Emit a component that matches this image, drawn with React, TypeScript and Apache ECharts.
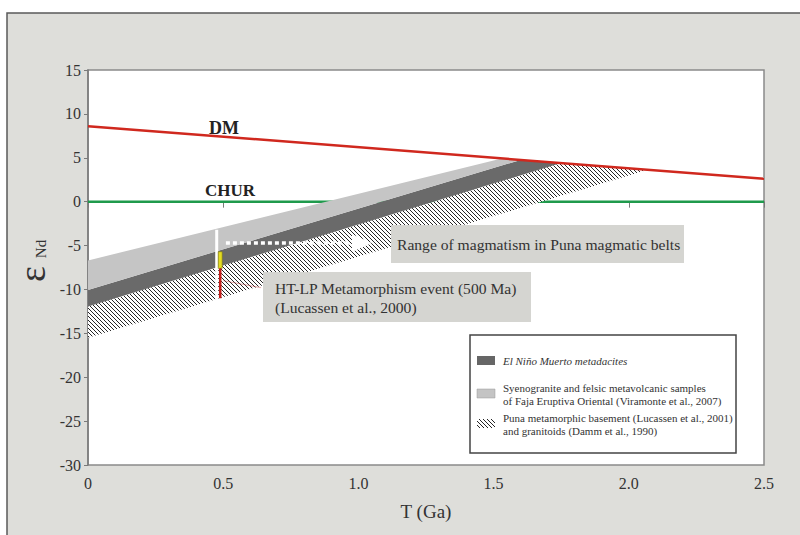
import React, { useEffect, useRef } from 'react';
import * as echarts from 'echarts';

// ---------- data ----------
const xTickLabels = ['0', '0.5', '1.0', '1.5', '2.0', '2.5'];
const dmLine = [[0, 8.6], [2.5, 2.6]];
const churLine = [[0, 0], [2.5, 0]];
const syenograniteBand = [[0, -6.7], [1.53, 4.93], [1.6, 4.76], [0, -10.05]];
const elNinoBand = [[0, -10.05], [1.6, 4.76], [1.75, 4.4], [0, -11.95]];
const punaBand = [[0, -11.95], [1.75, 4.4], [2.07, 3.63], [0, -15.5]];
const eventT = 0.476;
const eventWhiteSpan = [-3.2, -11.2];
const eventYellowSpan = [-5.7, -7.6];
const eventRedSpan = [-7.6, -11.0];
const arrowY = -4.7;
const arrowSpan = [0.51, 1.05];
const leaderLine = [[0.5, -9.0], [0.64, -9.8]];

const SERIF = 'Liberation Serif';

function makeHatch(): HTMLCanvasElement {
  const c = document.createElement('canvas');
  c.width = 4;
  c.height = 4;
  const ctx = c.getContext('2d')!;
  ctx.fillStyle = '#ffffff';
  ctx.fillRect(0, 0, 4, 4);
  ctx.strokeStyle = '#262626';
  ctx.lineWidth = 1;
  ctx.beginPath();
  ctx.moveTo(0, 0); ctx.lineTo(4, 4);
  ctx.moveTo(-1, 3); ctx.lineTo(1, 5);
  ctx.moveTo(3, -1); ctx.lineTo(5, 1);
  ctx.stroke();
  return c;
}

export default function App() {
  const ref = useRef<HTMLDivElement>(null);
  useEffect(() => {
    if (!ref.current) return;
    const chart = echarts.init(ref.current, null, { renderer: 'svg' });
    const hatch = { image: makeHatch(), repeat: 'repeat' };

    const poly = (name: string, pts: number[][], fill: any, z: number) => ({
      type: 'custom',
      name,
      z,
      silent: true,
      clip: true,
      data: [[0, 0]],
      renderItem: (_p: any, api: any) => ({
        type: 'polygon',
        shape: { points: pts.map((p) => api.coord(p)) },
        style: { fill, stroke: null },
      }),
    });

    const option: any = {
      animation: false,
      backgroundColor: '#ffffff',
      textStyle: { fontFamily: SERIF },
      grid: {
        left: 88, top: 70, width: 676, height: 395,
        show: true, backgroundColor: '#ffffff', borderColor: '#8a8a8a', borderWidth: 1.5,
      },
      xAxis: {
        type: 'value', min: 0, max: 2.5, interval: 0.5,
        name: 'T (Ga)', nameLocation: 'middle', nameGap: 37,
        nameTextStyle: { fontFamily: SERIF, fontSize: 19, color: '#333' },
        axisLine: { show: true, lineStyle: { color: '#7a7a7a', width: 1.5 } },
        axisTick: { show: true, length: 6, lineStyle: { color: '#7a7a7a' } },
        axisLabel: {
          margin: 10, fontFamily: SERIF, fontSize: 16, color: '#333',
          formatter: (v: number) => xTickLabels[Math.round(v / 0.5)] ?? '',
        },
        splitLine: { show: false },
      },
      yAxis: {
        type: 'value', min: -30, max: 15, interval: 5,
        axisLine: { show: true, lineStyle: { color: '#7a7a7a', width: 1.5 } },
        axisTick: { show: true, length: 4, lineStyle: { color: '#7a7a7a' } },
        axisLabel: { margin: 7, fontFamily: SERIF, fontSize: 16, color: '#333' },
        splitLine: { show: false },
      },
      series: [
        {
          type: 'line', name: 'CHUR', data: churLine, symbol: 'none', z: 1, silent: true,
          lineStyle: { color: '#1f9a4c', width: 2.5 },
        },
        poly('Puna', punaBand, hatch, 2),
        poly('El Niño', elNinoBand, '#6a6a6a', 3),
        poly('Syenogranite', syenograniteBand, '#c5c5c5', 4),
        {
          type: 'line', name: 'DM', data: dmLine, symbol: 'none', z: 5, silent: true,
          lineStyle: { color: '#d0281e', width: 2.5 },
        },
        {
          type: 'custom', name: 'annotations', z: 6, silent: true, clip: false,
          data: [[0, 0]],
          renderItem: (_p: any, api: any) => {
            const w0 = api.coord([eventT, eventWhiteSpan[0]]);
            const w1 = api.coord([eventT, eventWhiteSpan[1]]);
            const y0 = api.coord([eventT, eventYellowSpan[0]]);
            const y1 = api.coord([eventT, eventYellowSpan[1]]);
            const r0 = api.coord([eventT, eventRedSpan[0]]);
            const r1 = api.coord([eventT, eventRedSpan[1]]);
            const a0 = api.coord([arrowSpan[0], arrowY]);
            const a1 = api.coord([arrowSpan[1], arrowY]);
            const l0 = api.coord(leaderLine[0]);
            const l1 = api.coord(leaderLine[1]);
            return {
              type: 'group',
              children: [
                { type: 'line', shape: { x1: l0[0], y1: l0[1], x2: l1[0], y2: l1[1] }, style: { stroke: 'rgba(200,60,60,0.45)', lineWidth: 1 } },
                { type: 'line', shape: { x1: w0[0], y1: w0[1], x2: w1[0], y2: w1[1] }, style: { stroke: '#ffffff', lineWidth: 3 } },
                { type: 'rect', shape: { x: y0[0] + 1.5, y: y0[1], width: 4, height: y1[1] - y0[1] }, style: { fill: '#e4dc22', stroke: '#7a7410', lineWidth: 0.6 } },
                { type: 'line', shape: { x1: r0[0] + 3.5, y1: r0[1], x2: r1[0] + 3.5, y2: r1[1] }, style: { stroke: '#c41e1a', lineWidth: 2.5 } },
                { type: 'line', shape: { x1: a0[0], y1: a0[1], x2: a1[0] - 18, y2: a1[1] }, style: { stroke: '#ffffff', lineWidth: 3.5, lineDash: [4, 3] } },
                { type: 'polygon', shape: { points: [[a1[0], a1[1]], [a1[0] - 20, a1[1] - 9], [a1[0] - 20, a1[1] + 9]] }, style: { fill: '#ffffff' } },
              ],
            };
          },
        },
      ],
      graphic: [
        { type: 'rect', z: -10, shape: { x: 7, y: 13, width: 800, height: 540 }, style: { fill: '#dededa', stroke: '#5a5a5a', lineWidth: 1.5 } },
        // y axis name
        { type: 'text', z: 10, x: 32, y: 274, rotation: Math.PI / 2, style: { text: 'ε', font: `38px ${SERIF}`, fill: '#333', align: 'center', verticalAlign: 'middle' } },
        { type: 'text', z: 10, x: 41, y: 249, rotation: Math.PI / 2, style: { text: 'Nd', font: `15px ${SERIF}`, fill: '#333', align: 'center', verticalAlign: 'middle' } },
        // line labels
        { type: 'text', z: 10, x: 224, y: 128, style: { text: 'DM', font: `bold 18px ${SERIF}`, fill: '#222', align: 'center', verticalAlign: 'middle' } },
        { type: 'text', z: 10, x: 230, y: 190, style: { text: 'CHUR', font: `bold 17px ${SERIF}`, fill: '#222', align: 'center', verticalAlign: 'middle' } },
        // range box
        { type: 'rect', z: 10, shape: { x: 391, y: 225, width: 293, height: 38 }, style: { fill: '#d5d5d1' } },
        { type: 'text', z: 11, x: 397, y: 244, style: { text: 'Range of magmatism in Puna magmatic belts', font: `15.6px ${SERIF}`, fill: '#333', verticalAlign: 'middle' } },
        // HT-LP box
        { type: 'rect', z: 10, shape: { x: 263, y: 272, width: 268, height: 50 }, style: { fill: '#d5d5d1' } },
        { type: 'text', z: 11, x: 275, y: 288, style: { text: 'HT-LP Metamorphism event (500 Ma)', font: `15.6px ${SERIF}`, fill: '#333', verticalAlign: 'middle' } },
        { type: 'text', z: 11, x: 275, y: 307, style: { text: '(Lucassen et al., 2000)', font: `15.6px ${SERIF}`, fill: '#333', verticalAlign: 'middle' } },
        // legend
        { type: 'rect', z: 10, shape: { x: 470, y: 335, width: 266, height: 118 }, style: { fill: '#ffffff', stroke: '#444', lineWidth: 1.5 } },
        { type: 'rect', z: 11, shape: { x: 477, y: 356, width: 18, height: 9 }, style: { fill: '#666666' } },
        { type: 'text', z: 11, x: 503, y: 360.5, style: { text: 'El Niño Muerto metadacites', font: `italic 11px ${SERIF}`, fill: '#333', verticalAlign: 'middle' } },
        { type: 'rect', z: 11, shape: { x: 477, y: 389, width: 18, height: 9 }, style: { fill: '#c4c4c4', stroke: '#9a9a9a', lineWidth: 0.5 } },
        { type: 'text', z: 11, x: 503, y: 388, style: { text: 'Syenogranite and felsic metavolcanic samples', font: `11px ${SERIF}`, fill: '#333', verticalAlign: 'middle' } },
        { type: 'text', z: 11, x: 503, y: 400.5, style: { text: 'of Faja Eruptiva Oriental (Viramonte et al., 2007)', font: `11px ${SERIF}`, fill: '#333', verticalAlign: 'middle' } },
        { type: 'rect', z: 11, shape: { x: 477, y: 419, width: 18, height: 9 }, style: { fill: hatch } },
        { type: 'text', z: 11, x: 503, y: 418, style: { text: 'Puna metamorphic basement (Lucassen et al., 2001)', font: `11px ${SERIF}`, fill: '#333', verticalAlign: 'middle' } },
        { type: 'text', z: 11, x: 503, y: 430.5, style: { text: 'and granitoids (Damm et al., 1990)', font: `11px ${SERIF}`, fill: '#333', verticalAlign: 'middle' } },
      ],
    };
    chart.setOption(option);
    return () => chart.dispose();
  }, []);
  return (
    <div
      ref={ref}
      style={{ position: 'absolute', left: 0, top: 0, width: 800, height: 535 }}
    />
  );
}
